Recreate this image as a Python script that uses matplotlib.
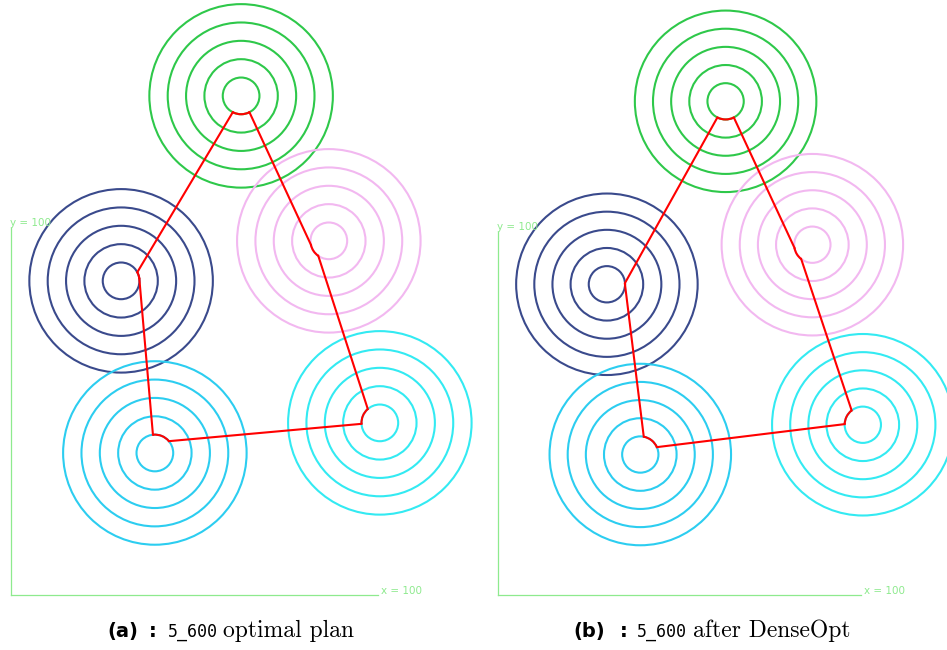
import math

import matplotlib
matplotlib.use("Agg")

import matplotlib.pyplot as plt
from matplotlib.patches import Arc, Circle

W, H = 947, 650

# target centres (plan units); the same instance is shown in both plans
centre_x = [62.7, 30.0, 86.6, 39.2, 100.5]
centre_y = [136.0, 85.6, 96.5, 38.7, 46.9]
colors = ["#2ec84a", "#3a4a8c", "#f2b8f0", "#2ccdf0", "#33eaf2"]
ring_radii = [5, 10, 15, 20, 25]

# visiting order: green -> pink -> aqua -> cyan -> navy -> green
tour = [0, 2, 4, 3, 1]

# entry / exit angles (deg) on the innermost ring, in tour order
opt_entry = [243, 192, 131, 40, 6]
opt_exit = [297, 235, 183, 96, 28]
dense_entry = [243, 190, 128, 24, 358]
dense_exit = [297, 232, 178, 79, 4]

captions = [
    ("(a)", ":", "5_600", "optimal plan"),
    ("(b)", ":", "5_600", "after DenseOpt"),
]


def ring_point(i, deg):
    r = ring_radii[0]
    a = math.radians(deg)
    return centre_x[i] + r * math.cos(a), centre_y[i] + r * math.sin(a)


def make_panel(fig, box, origin, scale):
    # box = (left, top, right, bottom) in pixels, origin = pixel of (0, 0)
    x0, y0, x1, y1 = box
    ox, oy = origin
    ax = fig.add_axes([x0 / W, 1 - y1 / H, (x1 - x0) / W, (y1 - y0) / H])
    ax.set_xlim((x0 - ox) / scale, (x1 - ox) / scale)
    ax.set_ylim((oy - y1) / scale, (oy - y0) / scale)
    ax.axis("off")
    return ax


def draw_plan(ax, entry, exit_):
    axis_green = "#8eea8e"
    ax.plot([0, 100], [0, 0], color=axis_green, lw=0.9)
    ax.plot([0, 0], [0, 100], color=axis_green, lw=0.9)
    ax.text(100.8, 0.2, "x = 100", fontsize=7.5, color=axis_green,
            va="baseline", ha="left")
    ax.text(-0.3, 100.6, "y = 100", fontsize=7.5, color=axis_green,
            va="baseline", ha="left")

    for cx, cy, c in zip(centre_x, centre_y, colors):
        for r in ring_radii:
            ax.add_patch(Circle((cx, cy), r, fill=False, ec=c, lw=1.5))

    n = len(tour)
    d = 2 * ring_radii[0]
    for k in range(n):
        i = tour[k]
        j = tour[(k + 1) % n]
        ax.add_patch(Arc((centre_x[i], centre_y[i]), d, d,
                         theta1=entry[k], theta2=exit_[k],
                         color="red", lw=1.5, zorder=5))
        p = ring_point(i, exit_[k])
        q = ring_point(j, entry[(k + 1) % n])
        ax.plot([p[0], q[0]], [p[1], q[1]], color="red", lw=1.5, zorder=5)


fig = plt.figure(figsize=(W / 100, H / 100), dpi=100)

ax_a = make_panel(fig, (0, 0, 478, 605), (11, 595), 3.67)
draw_plan(ax_a, opt_entry, opt_exit)

ax_b = make_panel(fig, (482, 0, 947, 605), (498, 595), 3.63)
draw_plan(ax_b, dense_entry, dense_exit)

# captions: bold tag, monospaced instance name, roman description
cap_x = [(107, 149, 168, 223), (573, 620, 637, 693)]
base_y = 1 - 637 / H
for (tag, colon, inst, desc), (xa, xc, xi, xd) in zip(captions, cap_x):
    fig.text(xa / W, base_y, tag, fontsize=14, fontweight="bold",
             family="DejaVu Sans", va="baseline")
    fig.text(xc / W, base_y, colon, fontsize=14, fontweight="bold",
             family="DejaVu Sans", va="baseline")
    fig.text(xi / W, base_y, inst, fontsize=12, family="DejaVu Sans Mono",
             va="baseline")
    fig.text(xd / W, base_y, desc, fontsize=17, family="cmr10",
             va="baseline")

fig.savefig("out.png", dpi=100)
